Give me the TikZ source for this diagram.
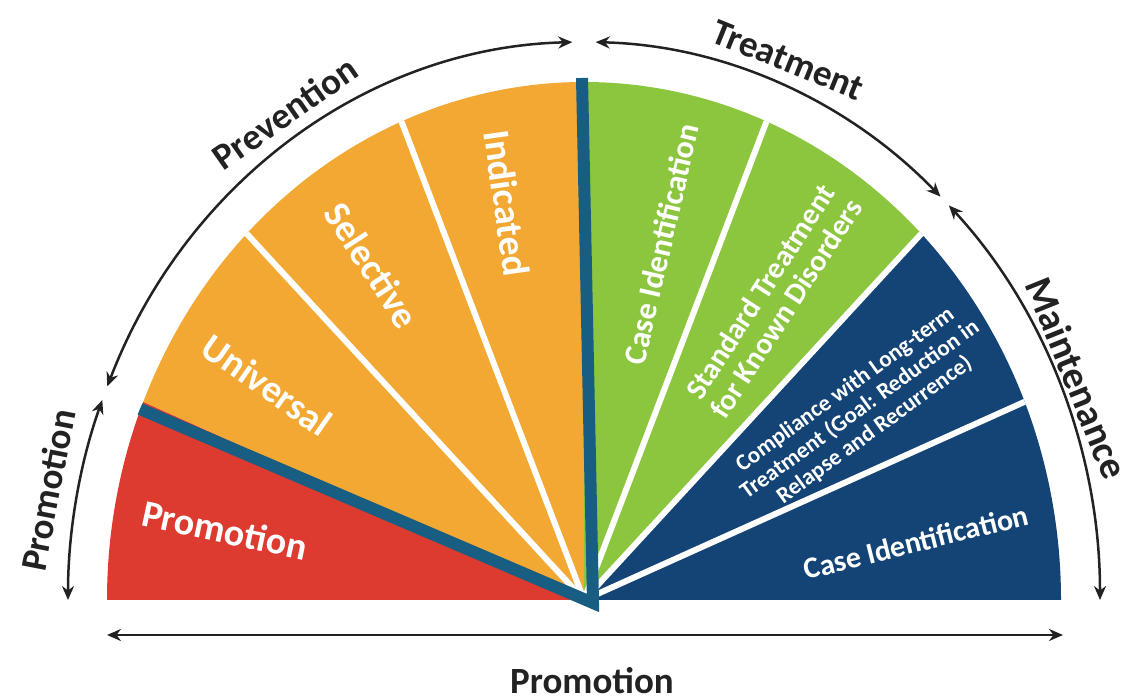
\documentclass[tikz,border=0pt]{standalone}
\usepackage{fontspec}
\setmainfont{Carlito}
\usetikzlibrary{arrows.meta}
\definecolor{promored}{HTML}{DD3B30}
\definecolor{prevorange}{HTML}{F3A833}
\definecolor{treatgreen}{HTML}{8CC63F}
\definecolor{maintnavy}{HTML}{134475}
\definecolor{splitblue}{HTML}{175E82}
\definecolor{spanblack}{HTML}{222222}

\begin{document}
\begin{tikzpicture}[x=1pt, y=1pt, >={Stealth[length=14pt,width=12pt]}]
\tikzstyle{span}=[<->, draw=spanblack, line width=2.5pt]
\tikzstyle{spanlabel}=[text=spanblack, font=\bfseries\fontsize{37}{40}\selectfont]
\tikzstyle{slice}=[text=white, align=center, font=\bfseries\fontsize{38}{40}\selectfont]
\useasboundingbox (0,0) rectangle (1137,700);
\coordinate (C) at (584,100);

% fan
\foreach \a/\c in {157.5/promored, 135/prevorange, 112.5/prevorange, 90/prevorange,
                   67.5/treatgreen, 45/treatgreen, 22.5/maintnavy, 0/maintnavy}
  \fill[\c] (C) -- ++(\a:477 and 518) arc[start angle=\a, delta angle=22.5, x radius=477, y radius=518] -- cycle;
\foreach \a in {135, 112.5, 67.5, 45, 22.5}
  \draw[white, line width=6pt] (C) -- ++(\a:477 and 518);

% split line
\coordinate (splitL) at (140,291);
\coordinate (splitB) at (593,97);
\coordinate (splitT) at (582,622);
\draw[splitblue, line width=12pt] (splitL) -- (splitB) -- (splitT);

% spans
\path (C) ++(180:516 and 558) coordinate (promoA);
\path (C) ++(157.5:516 and 558) coordinate (prevA);
\path (C) ++(88.7:516 and 558) coordinate (treatA);
\path (C) ++(45:516 and 558) coordinate (maintA);
\coordinate (baseL) at (107,65);
\coordinate (baseR) at (1063,65);
\draw[span] (promoA) arc[start angle=180, end angle=159, x radius=516, y radius=558];
\draw[span] (prevA) arc[start angle=157.5, end angle=91.3, x radius=516, y radius=558];
\draw[span] (treatA) arc[start angle=88.7, end angle=46.3, x radius=516, y radius=558];
\draw[span] (maintA) arc[start angle=45, end angle=0, x radius=516, y radius=558];
\draw[span] (baseL) -- (baseR);

\node[spanlabel, rotate=79]  (promoSide) at (48,210)   {Promotion};
\node[spanlabel, rotate=35]  (prevTop)   at (285,587)  {Prevention};
\node[spanlabel, rotate=-22] (treatTop)  at (788,640)  {Treatment};
\node[spanlabel, rotate=-68, font=\bfseries\fontsize{39}{40}\selectfont] (maintSide) at (1077,322) {Maintenance};
\node[spanlabel, inner sep=1pt] (promoBase) at (592,19) {Promotion};

% slice labels
\node[slice, rotate=-12] (promo) at (225,170) {Promotion};
\node[slice, rotate=-35] (univ)  at (267,315) {Universal};
\node[slice, rotate=-57] (sel)   at (372,435) {Selective};
\node[slice, rotate=-82] (ind)   at (507,497) {Indicated};
\node[slice, rotate=77, font=\bfseries\fontsize{32}{34}\selectfont] (caseTreat) at (661,456) {Case Identification};
\node[slice, rotate=57, font=\bfseries\fontsize{30}{31}\selectfont] (std) at (773,400) {Standard Treatment\\for Known Disorders};
\node[slice, rotate=36, font=\bfseries\fontsize{23}{25}\selectfont] (comply) at (860,290) {Compliance with Long-term\\Treatment (Goal: Reduction in\\Relapse and Recurrence)};
\node[slice, rotate=14, font=\bfseries\fontsize{30}{32}\selectfont] (caseMaint) at (916,158) {Case Identification};
\end{tikzpicture}
\end{document}
